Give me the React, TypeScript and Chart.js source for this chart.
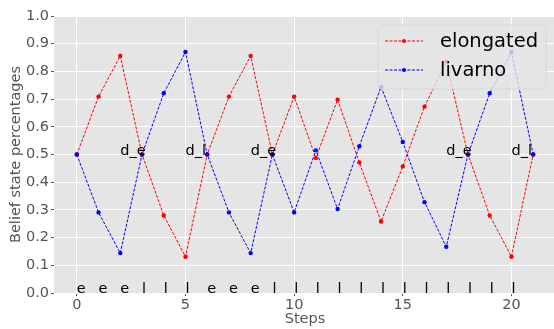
import React, { useEffect, useRef } from "react";
import { Chart, registerables } from "chart.js";

Chart.register(...registerables);

// ---- data ----
const steps = [0, 1, 2, 3, 4, 5, 6, 7, 8, 9, 10, 11, 12, 13, 14, 15, 16, 17, 18, 19, 20, 21];
const elongated = [0.5, 0.709, 0.856, 0.5, 0.28, 0.131, 0.5, 0.709, 0.856, 0.5, 0.709, 0.487, 0.698, 0.471, 0.258, 0.457, 0.673, 0.835, 0.5, 0.28, 0.131, 0.5];
const livarno = [0.5, 0.291, 0.144, 0.5, 0.721, 0.87, 0.5, 0.291, 0.144, 0.5, 0.291, 0.515, 0.303, 0.53, 0.744, 0.545, 0.328, 0.167, 0.5, 0.721, 0.87, 0.5];
const seriesNames = ["elongated", "livarno"];
const decisionSteps = [2, 5, 8, 17, 20];
const decisionLabels = ["d_e", "d_l", "d_e", "d_e", "d_l"];
const decisionLevel = 0.5;
const obsSteps = [0, 1, 2, 3, 4, 5, 6, 7, 8, 9, 10, 11, 12, 13, 14, 15, 16, 17, 18, 19, 20];
const obsLabels = ["e", "e", "e", "l", "l", "l", "e", "e", "e", "l", "l", "l", "l", "l", "l", "l", "l", "l", "l", "l", "l"];
const obsLevel = 0;
const xTicks = [0, 5, 10, 15, 20];
const yTicks = [0, 0.1, 0.2, 0.3, 0.4, 0.5, 0.6, 0.7, 0.8, 0.9, 1.0];
const xLabel = "Steps";
const yLabel = "Belief state percentages";

const FONT = "'DejaVu Sans', sans-serif";
const RED = "#ff0000";
const BLUE = "#0000ff";

const bgPlugin = {
  id: "bgPlugin",
  beforeDraw(chart: any) {
    const { ctx, chartArea } = chart;
    ctx.save();
    ctx.fillStyle = "#e5e5e5";
    ctx.fillRect(chartArea.left, chartArea.top, chartArea.right - chartArea.left, chartArea.bottom - chartArea.top);
    ctx.restore();
  },
};

const textPlugin = {
  id: "textPlugin",
  afterDatasetsDraw(chart: any) {
    const { ctx, scales } = chart;
    const xs = scales.x;
    const ys = scales.y;
    ctx.save();
    ctx.font = `14.5px ${FONT}`;
    ctx.fillStyle = "#000";
    ctx.textAlign = "left";
    ctx.textBaseline = "alphabetic";
    decisionSteps.forEach((s, i) => {
      ctx.fillText(decisionLabels[i], xs.getPixelForValue(s), ys.getPixelForValue(decisionLevel));
    });
    obsSteps.forEach((s, i) => {
      ctx.fillText(obsLabels[i], xs.getPixelForValue(s), ys.getPixelForValue(obsLevel));
    });
    ctx.restore();
  },
};

const legendPlugin = {
  id: "legendPlugin",
  afterDraw(chart: any) {
    const { ctx, chartArea } = chart;
    const right = chartArea.right - 10;
    const left = right - 168;
    const top = chartArea.top + 9;
    const h = 64;
    ctx.save();
    const r = 4;
    ctx.beginPath();
    ctx.moveTo(left + r, top);
    ctx.lineTo(right - r, top);
    ctx.quadraticCurveTo(right, top, right, top + r);
    ctx.lineTo(right, top + h - r);
    ctx.quadraticCurveTo(right, top + h, right - r, top + h);
    ctx.lineTo(left + r, top + h);
    ctx.quadraticCurveTo(left, top + h, left, top + h - r);
    ctx.lineTo(left, top + r);
    ctx.quadraticCurveTo(left, top, left + r, top);
    ctx.closePath();
    ctx.fillStyle = "rgba(229,229,229,0.8)";
    ctx.fill();
    ctx.strokeStyle = "rgba(214,214,214,0.8)";
    ctx.lineWidth = 1;
    ctx.stroke();
    chart.data.datasets.forEach((ds: any, i: number) => {
      const y = top + 16 + i * 29;
      ctx.strokeStyle = ds.borderColor;
      ctx.lineWidth = 1;
      ctx.setLineDash([3, 1.5]);
      ctx.beginPath();
      ctx.moveTo(left + 7, y);
      ctx.lineTo(left + 45, y);
      ctx.stroke();
      ctx.setLineDash([]);
      ctx.fillStyle = ds.borderColor;
      ctx.beginPath();
      ctx.arc(left + 26, y, 2, 0, Math.PI * 2);
      ctx.fill();
      ctx.fillStyle = "#000";
      ctx.font = `19.5px ${FONT}`;
      ctx.textAlign = "left";
      ctx.textBaseline = "middle";
      ctx.fillText(ds.label, left + 62, y + 0.5);
    });
    ctx.restore();
  },
};

export default function App() {
  const ref = useRef<HTMLCanvasElement | null>(null);
  useEffect(() => {
    if (!ref.current) return;
    const tickFont = { family: FONT, size: 14.5 };
    const mk = (name: string, vals: number[], color: string, order: number) => ({
      label: name,
      data: steps.map((s, i) => ({ x: s, y: vals[i] })),
      borderColor: color,
      backgroundColor: color,
      borderWidth: 1,
      borderDash: [3, 1.5],
      pointRadius: 2.2,
      pointBorderWidth: 0,
      pointBackgroundColor: color,
      tension: 0,
      order,
    });
    const chart = new Chart(ref.current, {
      type: "line",
      data: {
        datasets: [mk(seriesNames[0], elongated, RED, 1), mk(seriesNames[1], livarno, BLUE, 0)],
      },
      options: {
        animation: false,
        responsive: false,
        layout: { padding: { top: 16, left: 0, right: 0, bottom: 0 } },
        plugins: { legend: { display: false }, tooltip: { enabled: false } },
        scales: {
          x: {
            type: "linear",
            min: -1.05,
            max: 22.05,
            afterBuildTicks: (s: any) => {
              s.ticks = xTicks.map((v) => ({ value: v }));
            },
            afterFit: (s: any) => {
              s.height = 36;
            },
            grid: { color: "#ffffff", lineWidth: 1, tickColor: "#555555", tickLength: 3, drawTicks: true },
            border: { display: false },
            ticks: {
              color: "#555555",
              font: tickFont,
              padding: 1,
              maxRotation: 0,
              autoSkip: false,
              callback: (v: any) => String(v),
            },
            title: { display: true, text: xLabel, color: "#555555", font: tickFont, padding: { top: 0, bottom: 1 } },
          },
          y: {
            type: "linear",
            min: 0,
            max: 1,
            afterBuildTicks: (s: any) => {
              s.ticks = yTicks.map((v) => ({ value: v }));
            },
            afterFit: (s: any) => {
              s.width = 54;
            },
            grid: { color: "#ffffff", lineWidth: 1, tickColor: "#555555", tickLength: 3, drawTicks: true },
            border: { display: false },
            ticks: {
              color: "#555555",
              font: tickFont,
              padding: 2,
              autoSkip: false,
              callback: (v: any) => Number(v).toFixed(1),
            },
            title: { display: true, text: yLabel, color: "#555555", font: tickFont, padding: { top: 8, bottom: 0 } },
          },
        },
      },
      plugins: [bgPlugin, textPlugin, legendPlugin],
    });
    return () => chart.destroy();
  }, []);
  return (
    <div style={{ position: "absolute", left: 0, top: 0, width: 554, height: 329, overflow: "hidden", background: "#fff" }}>
      <canvas ref={ref} width={560} height={329} style={{ display: "block" }} />
    </div>
  );
}
